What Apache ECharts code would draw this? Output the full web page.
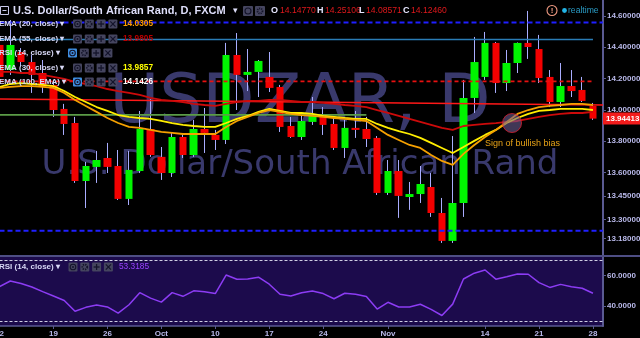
<!DOCTYPE html>
<html><head><meta charset="utf-8">
<script src="https://cdn.jsdelivr.net/npm/echarts@6/dist/echarts.min.js"></script>
<style>html,body{margin:0;padding:0;background:#000}#c{width:640px;height:338px}</style>
</head><body><div id="c"></div>
<script>
// ---------- data ----------
const dates = ['2016-09-12','2016-09-13','2016-09-14','2016-09-15','2016-09-16','2016-09-19','2016-09-20','2016-09-21','2016-09-22','2016-09-23',
'2016-09-26','2016-09-27','2016-09-28','2016-09-29','2016-09-30','2016-10-03','2016-10-04','2016-10-05','2016-10-06','2016-10-07',
'2016-10-10','2016-10-11','2016-10-12','2016-10-13','2016-10-14','2016-10-17','2016-10-18','2016-10-19','2016-10-20','2016-10-21',
'2016-10-24','2016-10-25','2016-10-26','2016-10-27','2016-10-28','2016-10-31','2016-11-01','2016-11-02','2016-11-03','2016-11-04',
'2016-11-07','2016-11-08','2016-11-09','2016-11-10','2016-11-11','2016-11-14','2016-11-15','2016-11-16','2016-11-17','2016-11-18',
'2016-11-21','2016-11-22','2016-11-23','2016-11-24','2016-11-25','2016-11-28'];
const opens  = [14.414,14.254,14.369,14.305,14.235,14.159,14.006,13.916,13.546,13.636,13.693,13.642,13.432,13.610,13.878,13.700,13.597,13.827,13.712,13.878,
13.840,13.808,14.350,14.223,14.242,14.210,14.146,13.897,13.827,13.923,13.961,13.910,13.757,13.885,13.878,13.821,13.470,13.610,13.444,13.463,
13.508,13.342,13.164,13.406,14.076,14.210,14.427,14.171,14.299,14.427,14.388,14.210,14.050,14.152,14.127,14.025];
const closes = [14.210,14.414,14.305,14.223,14.146,13.999,13.910,13.546,13.642,13.680,13.636,13.432,13.617,13.878,13.712,13.597,13.827,13.712,13.878,13.853,
13.808,14.350,14.223,14.242,14.312,14.140,13.891,13.827,13.929,13.967,13.904,13.757,13.885,13.872,13.814,13.470,13.610,13.451,13.463,13.527,
13.342,13.164,13.406,14.076,14.305,14.427,14.171,14.299,14.427,14.401,14.203,14.050,14.152,14.120,14.057,13.94413];
const lows   = [14.191,14.223,14.280,14.108,14.108,13.955,13.840,13.534,13.374,13.534,13.597,13.425,13.393,13.597,13.700,13.553,13.572,13.693,13.700,13.725,
13.744,13.782,13.999,14.120,14.082,14.114,13.859,13.821,13.808,13.904,13.840,13.744,13.693,13.821,13.763,13.457,13.457,13.311,13.362,13.406,
13.317,13.151,13.151,13.317,13.980,14.191,14.108,14.120,14.235,14.325,14.171,14.018,14.018,14.082,14.050,13.936];
const highs  = [14.446,14.573,14.394,14.350,14.318,14.191,14.038,13.955,13.668,13.738,13.789,13.744,13.738,13.993,14.069,13.763,13.853,13.840,13.936,14.012,
13.872,14.427,14.490,14.388,14.318,14.369,14.159,13.955,13.967,14.082,14.018,13.948,13.936,13.993,13.955,13.833,13.680,13.680,13.540,13.642,
13.597,13.438,13.833,14.191,14.465,14.497,14.433,14.382,14.430,14.631,14.478,14.254,14.299,14.254,14.210,14.044];
const ema20 = [14.140,14.146,14.152,14.152,14.146,14.140,14.108,14.063,14.025,13.987,13.948,13.916,13.891,13.885,13.872,13.859,13.853,13.846,13.846,13.846,
13.846,13.891,13.929,13.955,13.980,13.999,13.987,13.974,13.967,13.961,13.955,13.948,13.942,13.936,13.929,13.885,13.840,13.808,13.776,13.757,
13.712,13.674,13.649,13.719,13.776,13.827,13.872,13.923,13.974,13.999,14.018,14.025,14.031,14.038,14.038,14.031];
const ema30 = [14.146,14.165,14.171,14.165,14.159,14.152,14.120,14.082,14.050,14.018,13.993,13.967,13.955,13.948,13.942,13.929,13.916,13.904,13.897,13.891,
13.891,13.916,13.942,13.961,13.987,14.006,13.993,13.980,13.980,13.974,13.961,13.955,13.948,13.942,13.942,13.910,13.885,13.865,13.846,13.821,
13.789,13.757,13.725,13.763,13.802,13.840,13.872,13.916,13.948,13.974,13.993,13.999,14.006,14.006,14.006,13.999];
const ema55 = [14.242,14.242,14.235,14.235,14.223,14.210,14.197,14.178,14.165,14.152,14.133,14.120,14.108,14.095,14.076,14.063,14.057,14.050,14.038,14.031,
14.025,14.038,14.050,14.057,14.057,14.063,14.063,14.057,14.050,14.050,14.044,14.038,14.031,14.025,14.018,13.999,13.980,13.961,13.942,13.923,
13.904,13.885,13.872,13.897,13.904,13.910,13.916,13.923,13.929,13.942,13.955,13.967,13.974,13.980,13.980,13.987];
const rsi14 = [52.6,56.3,54.7,52.4,49.4,46.5,43.6,36.6,39.1,40.6,39.4,35.3,40.8,48.7,45.1,42.5,48.7,46.3,49.9,49.3,
48.1,60.2,57.4,57.6,58.8,54.2,47.6,46.5,48.6,49.8,48.1,44.7,48.3,47.6,46.2,38.0,42.4,39.3,39.3,41.1,
37.8,33.8,41.2,57.6,61.4,63.5,57.5,59.1,60.9,60.7,55.2,52.1,54.1,52.6,51.6,48.3];
// drawn levels (price) and trend line ends
const levelBlueTop = 14.557, levelSteel = 14.449, levelRedDash = 14.182, levelGreen = 13.968, levelBlueBottom = 13.228;
const trendStart = 14.069, trendEnd = 14.031;
const bullishMark = [47.5, 13.916];
const rsiBands = [70, 30];
// tick labels
const xTickIndex = [0,5,10,15,20,25,30,36,45,50,55];
const xTickLabels = ['12','19','26','Oct','10','17','24','Nov','14','21','28'];
const priceTicks = [14.6,14.4,14.2,14.0,13.8,13.6,13.45,13.3,13.18];
const rsiTicks = [60,40];
const headerOHLC = ['14.14770','14.25106','14.08571','14.12460'];
const legendNames = ['EMA (20, close)','EMA (55, close)','RSI (14, close)','EMA (30, close)','EMA (100, EMA)'];
const legendValues = ['14.0305','13.9805','','13.9857','14.1426'];
const rsiLegendValue = '53.3185';

// ---------- chart ----------
const XMAX = 55.93;
const F = '"Liberation Sans", Arial, sans-serif';
const AX = '#5a5a92', LBL = '#b9b9ea';
const chart = echarts.init(document.getElementById('c'), null, {width:640, height:338});
const wickData = dates.map((d,i)=>[i, opens[i], closes[i], lows[i], highs[i]]);
const bodyData = dates.map((d,i)=>[i, opens[i], closes[i], Math.min(opens[i],closes[i]), Math.max(opens[i],closes[i])]);
const toLine = a => a.map((v,i)=>[i,v]);
const lastClose = closes[closes.length-1];

function hline(v, x1, color, width, type){
  return {type:'line', xAxisIndex:0, yAxisIndex:0, data:[[0,v],[x1,v]], showSymbol:false, silent:true,
    lineStyle:{color, width, type}, z:4};
}

// graphic overlay
const G = [];
function txt(text, x, y, font, fill, align, z){
  G.push({type:'text', silent:true, z: z==null?50:z, style:{text, x, y, font, fill, align: align||'left', textAlign: align||'left', verticalAlign:'middle', textVerticalAlign:'middle'}});
}
function icons(x0, yc, hl){
  const dark = '#14142a';
  for(let k=0;k<4;k++){
    const x = x0 + k*11.8, cx = x+4.5;
    G.push({type:'rect', silent:true, z:50, shape:{x, y:yc-4.5, width:9, height:9, r:1}, style:{fill:(k===0&&hl)?'#3f8fe2':'#45455f'}});
    if(k===0){
      G.push({type:'circle', silent:true, z:51, shape:{cx, cy:yc, r:2.8}, style:{fill:'none', stroke:dark, lineWidth:1.1}});
      G.push({type:'circle', silent:true, z:51, shape:{cx, cy:yc, r:1}, style:{fill:dark}});
    } else if(k===1){
      G.push({type:'circle', silent:true, z:51, shape:{cx, cy:yc, r:2.4}, style:{fill:'none', stroke:dark, lineWidth:1.8, lineDash:[1.2,0.9]}});
    } else if(k===2){
      G.push({type:'line', silent:true, z:51, shape:{x1:cx-3, y1:yc, x2:cx+3, y2:yc}, style:{stroke:dark, lineWidth:1.3}});
      G.push({type:'line', silent:true, z:51, shape:{x1:cx, y1:yc-3, x2:cx, y2:yc+3}, style:{stroke:dark, lineWidth:1.3}});
    } else {
      G.push({type:'line', silent:true, z:51, shape:{x1:cx-2.6, y1:yc-2.6, x2:cx+2.6, y2:yc+2.6}, style:{stroke:dark, lineWidth:1.2}});
      G.push({type:'line', silent:true, z:51, shape:{x1:cx-2.6, y1:yc+2.6, x2:cx+2.6, y2:yc-2.6}, style:{stroke:dark, lineWidth:1.2}});
    }
  }
}
// watermark
txt('USDZAR, D', 300, 104, '68px "DejaVu Sans"', '#39396c', 'center', 0);
txt('U.S. Dollar/South African Rand', 300, 165, '34px "DejaVu Sans"', '#39396c', 'center', 0);
// header
G.push({type:'rect', silent:true, z:50, shape:{x:0.5, y:6.5, width:8, height:8}, style:{fill:'none', stroke:'#c8c8ea', lineWidth:1}});
G.push({type:'line', silent:true, z:50, shape:{x1:2.5, y1:10.5, x2:6.5, y2:10.5}, style:{stroke:'#c8c8ea', lineWidth:1}});
txt('U.S. Dollar/South African Rand, D, FXCM', 13, 11, 'bold 11px '+F, '#dedefa');
txt('▾', 233, 11, '9px "DejaVu Sans"', '#dedefa');
G.push({type:'rect', silent:true, z:50, shape:{x:243, y:6, width:10, height:10, r:1}, style:{fill:'#45455f'}});
G.push({type:'circle', silent:true, z:51, shape:{cx:248, cy:11, r:3}, style:{fill:'none', stroke:'#14142a', lineWidth:1.1}});
G.push({type:'rect', silent:true, z:50, shape:{x:255, y:6, width:10, height:10, r:1}, style:{fill:'#45455f'}});
G.push({type:'circle', silent:true, z:51, shape:{cx:260, cy:11, r:2.5}, style:{fill:'none', stroke:'#14142a', lineWidth:1.8, lineDash:[1.2,0.9]}});
const ohlcX = [[271,280],[317,325],[359,366],[403,411]];
['O','H','L','C'].forEach((k,j)=>{
  txt(k, ohlcX[j][0], 11, 'bold 9px '+F, '#e6e6ff');
  txt(headerOHLC[j], ohlcX[j][1], 11, '8.6px '+F, '#e0181c');
});
G.push({type:'circle', silent:true, z:50, shape:{cx:552, cy:10.5, r:5}, style:{fill:'none', stroke:'#f09a82', lineWidth:1.1}});
txt('!', 552, 10.5, 'bold 8px '+F, '#f09a82', 'center');
G.push({type:'circle', silent:true, z:50, shape:{cx:564.5, cy:10.5, r:2.4}, style:{fill:'#22b4e6'}});
txt('realtime', 568, 10.5, '8.6px '+F, '#2a9cc6');
// legend rows
const rowY = [24,39,53,68,82];
const valColors = ['#ff9a00','#b80000','','#ffff00','#ffffff'];
const iconX = [73,73,68,73,73];
legendNames.forEach((n,j)=>{
  txt(n+' ▾', -1, rowY[j], 'bold 8px '+F, '#d8d8f6');
  icons(iconX[j], rowY[j], j===2||j===4);
  if(legendValues[j]) txt(legendValues[j], 123, rowY[j], 'bold 8.3px '+F, valColors[j]);
});
txt('RSI (14, close) ▾', -1, 267, 'bold 8px '+F, '#d8d8f6');
icons(68.5, 267, false);
txt(rsiLegendValue, 119, 267, '8.3px '+F, '#9a44ff');
txt('Sign of bullish bias', 485, 144, '9px '+F, '#e8a317', 'left', 20);
// pane separator
G.push({type:'line', silent:true, z:40, shape:{x1:0, y1:256, x2:640, y2:256}, style:{stroke:'#4e4e84', lineWidth:2}});

const option = {
  animation:false,
  backgroundColor:'#000',
  grid:[
    {left:-0.5, right:37, top:0, height:255, outerBoundsMode:'none', containLabel:false},
    {left:-0.5, right:37, top:257, height:69, outerBoundsMode:'none', containLabel:false, show:true, backgroundColor:'#1c0b4c', borderWidth:0, borderColor:'transparent'}
  ],
  xAxis:[
    {gridIndex:0, type:'value', min:0, max:XMAX, show:false, splitLine:{show:false}, axisLine:{show:false, onZero:false}},
    {gridIndex:1, type:'value', min:0, max:XMAX, splitLine:{show:false},
      axisLine:{show:true, onZero:false, lineStyle:{color:AX, width:1.5}},
      axisTick:{show:true, customValues:xTickIndex, length:3, lineStyle:{color:AX}},
      axisLabel:{customValues:xTickIndex, margin:4, color:LBL, fontSize:8, fontWeight:'bold', fontFamily:F,
        formatter:v=>{const k=xTickIndex.indexOf(Math.round(v)); return k>=0?xTickLabels[k]:'';}}}
  ],
  yAxis:[
    {gridIndex:0, type:'value', position:'right', min:13.0741, max:14.7008, splitLine:{show:false},
      axisLine:{show:true, onZero:false, lineStyle:{color:AX, width:2}},
      axisTick:{show:true, customValues:priceTicks, length:3, lineStyle:{color:AX}},
      axisLabel:{customValues:priceTicks, margin:4, color:LBL, fontSize:8, fontWeight:'bold', fontFamily:F, formatter:v=>v.toFixed(5)}},
    {gridIndex:1, type:'value', position:'right', min:26.93, max:71.96, splitLine:{show:false},
      axisLine:{show:true, onZero:false, lineStyle:{color:AX, width:2}},
      axisTick:{show:true, customValues:rsiTicks, length:3, lineStyle:{color:AX}},
      axisLabel:{customValues:rsiTicks, margin:4, color:LBL, fontSize:8, fontWeight:'bold', fontFamily:F, formatter:v=>v.toFixed(4)}}
  ],
  series:[
    {type:'candlestick', name:'wick', xAxisIndex:0, yAxisIndex:0, data:wickData, encode:{x:0, y:[1,2,3,4]}, barWidth:1, silent:true, z:2,
      itemStyle:{color:'#a9adff', color0:'#a9adff', borderColor:'#a9adff', borderColor0:'#a9adff', borderWidth:1}},
    {type:'candlestick', name:'USDZAR', xAxisIndex:0, yAxisIndex:0, data:bodyData, encode:{x:0, y:[1,2,3,4]}, barWidth:8, silent:true, z:3,
      itemStyle:{color:'#00f500', color0:'#f40000', borderColor:'#00f500', borderColor0:'#f40000', borderWidth:0}},
    hline(levelBlueTop, XMAX, '#1f1fff', 2, [5,3]),
    hline(levelSteel, 55, '#2a7cb6', 1.5, 'solid'),
    hline(levelRedDash, 55, '#e81010', 1.6, [4,3]),
    hline(levelGreen, 34, '#5b9c47', 1.6, 'solid'),
    hline(levelBlueBottom, XMAX, '#1f1fff', 2, [5,3]),
    {type:'line', data:[[0,trendStart],[XMAX,trendEnd]], showSymbol:false, silent:true, lineStyle:{color:'#ff1818', width:1.6}, z:4},
    {type:'line', name:'EMA55', data:toLine(ema55), showSymbol:false, silent:true, lineStyle:{color:'#cc0a0a', width:1.8}, z:5},
    {type:'line', name:'EMA30', data:toLine(ema30), showSymbol:false, silent:true, lineStyle:{color:'#ffee00', width:1.8}, z:5},
    {type:'line', name:'EMA20', data:toLine(ema20), showSymbol:false, silent:true, lineStyle:{color:'#f5a000', width:1.8}, z:5},
    {type:'scatter', data:[bullishMark], symbolSize:19, silent:true, z:6,
      itemStyle:{color:'rgba(112,96,150,0.72)', borderColor:'#d81f30', borderWidth:1}},
    {type:'line', name:'RSI', xAxisIndex:1, yAxisIndex:1, data:toLine(rsi14), showSymbol:false, silent:true,
      lineStyle:{color:'#8c3cf4', width:1.5}, z:5,
      markLine:{silent:true, symbol:'none', label:{show:false}, lineStyle:{color:'#cfcfe4', width:1, type:[3,2]},
        data:rsiBands.map(v=>({yAxis:v}))}}
  ],
  graphic:{elements:G}
};
chart.setOption(option);
// last-price tag placed through the price axis scale
const py = chart.convertToPixel({yAxisIndex:0}, lastClose);
G.push({type:'rect', silent:true, z:60, shape:{x:603, y:py-6, width:37, height:12}, style:{fill:'#f21c1c'}});
txt(lastClose.toFixed(5), 606, py, 'bold 8px '+F, '#ffffff', 'left', 61);
chart.setOption({graphic:{elements:G}});
</script></body></html>
